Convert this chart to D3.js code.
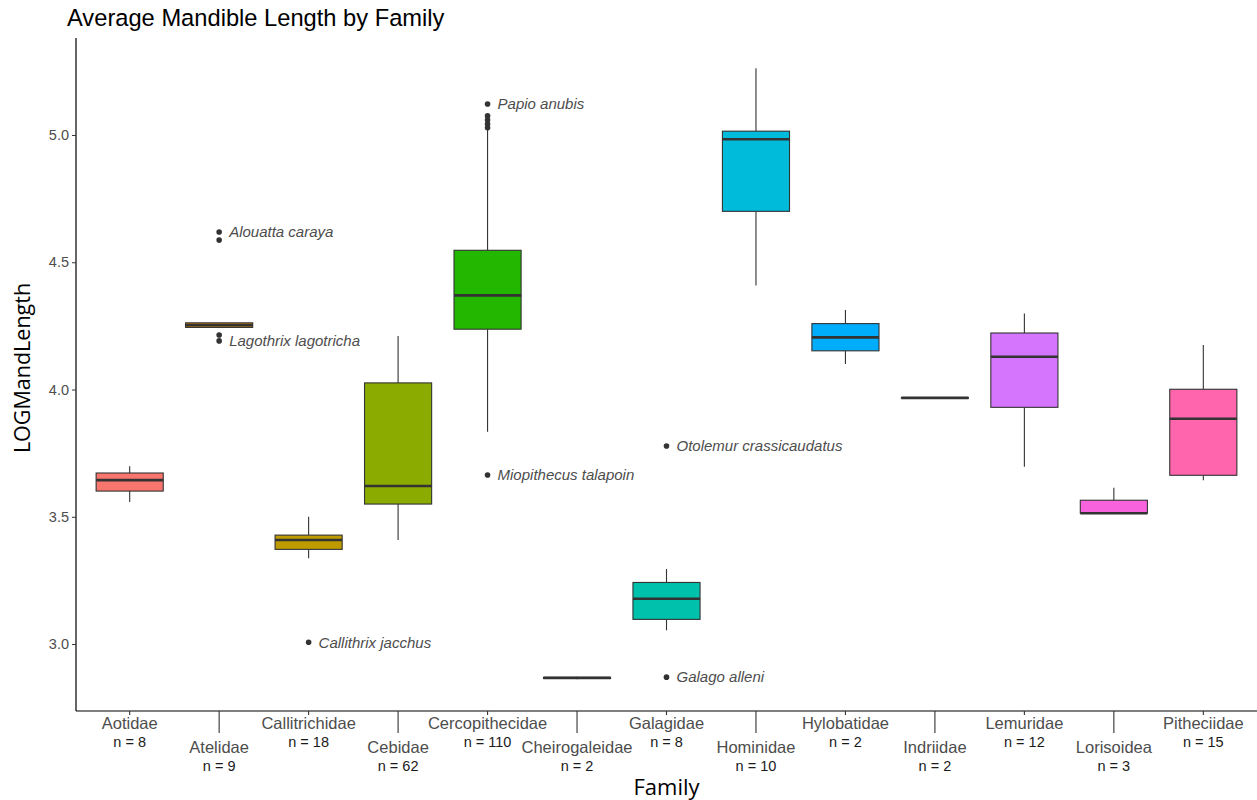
<!DOCTYPE html>
<html>
<head>
<meta charset="utf-8">
<script src="https://cdn.jsdelivr.net/npm/d3@7"></script>
<style>
  html, body { margin: 0; padding: 0; background: #ffffff; }
  svg { display: block; }
</style>
</head>
<body>
<svg id="chart" width="1257" height="800"></svg>
<script>
// Families on the x axis, with sample sizes
const families = ["Aotidae", "Atelidae", "Callitrichidae", "Cebidae", "Cercopithecidae",
  "Cheirogaleidae", "Galagidae", "Hominidae", "Hylobatidae", "Indriidae",
  "Lemuridae", "Lorisoidea", "Pitheciidae"];
const counts = [8, 9, 18, 62, 110, 2, 8, 10, 2, 2, 12, 3, 15];

// Five-number summaries of log mandible length per family
const whiskerLow    = [3.558, 4.244, 3.337, 3.409, 3.834, 2.862, 3.054, 4.409, 4.100, 3.965, 3.697, 3.514, 3.644];
const lowerQuartile = [3.601, 4.244, 3.372, 3.550, 4.237, 2.865, 3.097, 4.700, 4.152, 3.966, 3.930, 3.514, 3.663];
const medians       = [3.644, 4.253, 3.409, 3.621, 4.370, 2.867, 3.178, 4.983, 4.205, 3.967, 4.129, 3.514, 3.885];
const upperQuartile = [3.672, 4.262, 3.428, 4.026, 4.547, 2.869, 3.242, 5.015, 4.259, 3.968, 4.222, 3.565, 4.001];
const whiskerHigh   = [3.699, 4.262, 3.500, 4.210, 5.020, 2.872, 3.295, 5.262, 4.312, 3.969, 4.299, 3.614, 4.175];

// Outlying specimens
const outlierFamilies = ["Atelidae", "Atelidae", "Atelidae", "Atelidae", "Callitrichidae",
  "Cercopithecidae", "Cercopithecidae", "Cercopithecidae", "Cercopithecidae", "Cercopithecidae",
  "Cercopithecidae", "Galagidae", "Galagidae"];
const outlierValues = [4.619, 4.587, 4.214, 4.191, 3.007,
  5.122, 5.075, 5.059, 5.043, 5.028,
  3.664, 3.778, 2.870];

// Named species next to selected outliers
const labelFamilies = ["Atelidae", "Atelidae", "Callitrichidae", "Cercopithecidae",
  "Cercopithecidae", "Galagidae", "Galagidae"];
const labelValues = [4.619, 4.191, 3.007, 5.122, 3.664, 3.778, 2.870];
const labelNames = ["Alouatta caraya", "Lagothrix lagotricha", "Callithrix jacchus",
  "Papio anubis", "Miopithecus talapoin", "Otolemur crassicaudatus", "Galago alleni"];

const yTicks = [3.0, 3.5, 4.0, 4.5, 5.0];

const palette = ["#F8766D", "#E18A00", "#BE9C00", "#8CAB00", "#24B700", "#00BE70", "#00C1AB",
  "#00BBDA", "#00ACFC", "#8B93FF", "#D575FE", "#F962DD", "#FF65AC"];

const panel = { left: 76, right: 1257, top: 38, bottom: 711 };
const svg = d3.select("#chart");

const x = d3.scalePoint().domain(families).range([panel.left, panel.right]).padding(0.6);
const y = d3.scaleLinear().domain([2.737, 5.381]).range([panel.bottom, panel.top]);
const color = d3.scaleOrdinal().domain(families).range(palette);
const boxW = x.step() * 0.75;

const rows = families.map((f, i) => ({
  family: f, n: counts[i], lo: whiskerLow[i], q1: lowerQuartile[i],
  med: medians[i], q3: upperQuartile[i], hi: whiskerHigh[i]
}));

const ink = "#333333";
const g = svg.append("g");

// whiskers
g.selectAll(".whisker-top").data(rows).join("line")
  .attr("x1", d => x(d.family)).attr("x2", d => x(d.family))
  .attr("y1", d => y(d.hi)).attr("y2", d => y(d.q3))
  .attr("stroke", ink).attr("stroke-width", 1.1);
g.selectAll(".whisker-bottom").data(rows).join("line")
  .attr("x1", d => x(d.family)).attr("x2", d => x(d.family))
  .attr("y1", d => y(d.q1)).attr("y2", d => y(d.lo))
  .attr("stroke", ink).attr("stroke-width", 1.1);

// boxes
g.selectAll("rect.box").data(rows).join("rect")
  .attr("class", "box")
  .attr("x", d => x(d.family) - boxW / 2)
  .attr("width", boxW)
  .attr("y", d => y(d.q3))
  .attr("height", d => Math.max(0, y(d.q1) - y(d.q3)))
  .attr("fill", d => color(d.family))
  .attr("stroke", ink).attr("stroke-width", 1.1);

// medians
g.selectAll("line.median").data(rows).join("line")
  .attr("class", "median")
  .attr("x1", d => x(d.family) - boxW / 2).attr("x2", d => x(d.family) + boxW / 2)
  .attr("y1", d => y(d.med)).attr("y2", d => y(d.med))
  .attr("stroke", ink).attr("stroke-width", 2.6);

// outlier points
g.selectAll("circle.outlier").data(outlierValues).join("circle")
  .attr("class", "outlier")
  .attr("cx", (v, i) => x(outlierFamilies[i]))
  .attr("cy", v => y(v))
  .attr("r", 2.8)
  .attr("fill", ink);

// species labels
g.selectAll("text.species").data(labelNames).join("text")
  .attr("class", "species")
  .attr("x", (t, i) => x(labelFamilies[i]) + 10)
  .attr("y", (t, i) => y(labelValues[i]))
  .attr("dy", "0.35em")
  .attr("font-family", "'Liberation Sans', Arial, sans-serif")
  .attr("font-style", "italic")
  .attr("font-size", 15)
  .attr("fill", "#4d4d4d")
  .text(t => t);

// y axis
const yAxis = svg.append("g")
  .attr("transform", `translate(${panel.left},0)`)
  .call(d3.axisLeft(y).tickValues(yTicks).tickFormat(d3.format(".1f")).tickSize(4).tickSizeOuter(0));
yAxis.select(".domain").attr("d", `M0,${panel.top}V${panel.bottom}`).attr("stroke", "#000").attr("stroke-width", 1.2);
yAxis.selectAll(".tick line").attr("stroke", "#333");
yAxis.selectAll(".tick text")
  .attr("x", -7)
  .attr("font-family", "'Liberation Sans', Arial, sans-serif")
  .attr("font-size", 14.5)
  .attr("fill", "#4d4d4d");

// x axis line
svg.append("line")
  .attr("x1", panel.left).attr("x2", panel.right)
  .attr("y1", panel.bottom).attr("y2", panel.bottom)
  .attr("stroke", "#000").attr("stroke-width", 1.2);

// x ticks: alternating rows, lower-row ticks extend down to their labels
const xt = svg.append("g").selectAll("g").data(rows).join("g")
  .attr("transform", d => `translate(${x(d.family)},${panel.bottom})`);
xt.append("line")
  .attr("y1", 0)
  .attr("y2", (d, i) => i % 2 === 0 ? 4 : 22)
  .attr("stroke", "#333").attr("stroke-width", 1.1);
xt.append("text")
  .attr("text-anchor", "middle")
  .attr("y", (d, i) => i % 2 === 0 ? 18 : 42)
  .attr("font-family", "'Liberation Sans', Arial, sans-serif")
  .attr("font-size", 16.5)
  .attr("fill", "#4d4d4d")
  .text(d => d.family);
xt.append("text")
  .attr("text-anchor", "middle")
  .attr("y", (d, i) => i % 2 === 0 ? 36 : 60)
  .attr("font-family", "'Liberation Sans Narrow', 'Liberation Sans', Arial, sans-serif")
  .attr("font-size", 14.5)
  .attr("fill", "#1a1a1a")
  .text(d => `n = ${d.n}`);

// titles
svg.append("text")
  .attr("x", 67).attr("y", 26)
  .attr("font-family", "'Liberation Sans', Arial, sans-serif")
  .attr("font-size", 23.7)
  .attr("fill", "#000")
  .text("Average Mandible Length by Family");

svg.append("text")
  .attr("transform", `translate(30,368) rotate(-90)`)
  .attr("text-anchor", "middle")
  .attr("font-family", "'Open Sans', 'Noto Sans', sans-serif")
  .attr("font-size", 21.5)
  .attr("fill", "#000")
  .text("LOGMandLength");

svg.append("text")
  .attr("x", (panel.left + panel.right) / 2).attr("y", 795)
  .attr("text-anchor", "middle")
  .attr("font-family", "'Open Sans', 'Noto Sans', sans-serif")
  .attr("font-size", 22)
  .attr("fill", "#000")
  .text("Family");
</script>
</body>
</html>
